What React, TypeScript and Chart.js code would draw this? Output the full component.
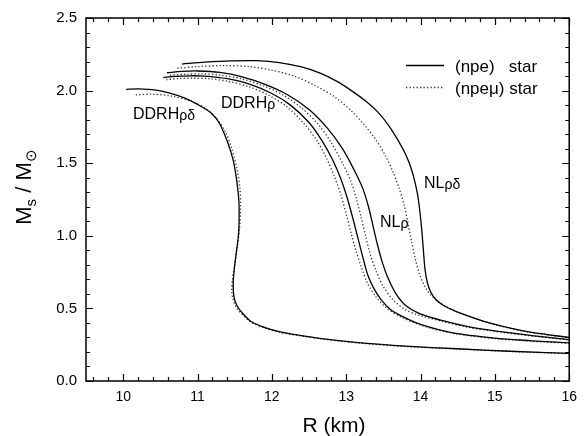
import React, { useEffect, useRef } from "react";
import { Chart, registerables } from "chart.js";

Chart.register(...registerables);

// Axis ticks
const xTickValues = [10, 11, 12, 13, 14, 15, 16];
const yTickValues = [0, 0.5, 1.0, 1.5, 2.0, 2.5];

// DDRHρδ (npe) star
const ddrhRhoDeltaNpeR = [10.04, 10.2, 10.44, 10.65, 10.84, 11.0, 11.19, 11.3, 11.41, 11.48, 11.52, 11.555, 11.56, 11.55, 11.52, 11.495, 11.48, 11.49, 11.53, 11.6, 11.72, 11.9, 12.1, 12.34, 12.7, 13.2, 13.8, 14.5, 15.2, 16.0];
const ddrhRhoDeltaNpeM = [2.009, 2.012, 2.004, 1.98, 1.947, 1.905, 1.843, 1.77, 1.637, 1.52, 1.407, 1.25, 1.13, 1.0, 0.88, 0.77, 0.673, 0.58, 0.52, 0.47, 0.41, 0.37, 0.34, 0.317, 0.29, 0.262, 0.24, 0.222, 0.205, 0.19];
// DDRHρδ (npeμ) star
const ddrhRhoDeltaNpemuR = [10.17, 10.4, 10.65, 10.9, 11.1, 11.25, 11.37, 11.46, 11.53, 11.57, 11.58, 11.565, 11.535, 11.5, 11.47, 11.46, 11.48, 11.53, 11.6, 11.72, 11.9, 12.1, 12.34, 12.7, 13.2, 13.8, 14.5, 15.2, 16.0];
const ddrhRhoDeltaNpemuM = [1.97, 1.975, 1.962, 1.93, 1.88, 1.81, 1.72, 1.6, 1.46, 1.33, 1.2, 1.05, 0.92, 0.8, 0.7, 0.62, 0.56, 0.5, 0.46, 0.405, 0.365, 0.336, 0.314, 0.288, 0.26, 0.238, 0.22, 0.204, 0.188];

// DDRHρ (npe) star
const ddrhRhoNpeR = [10.54, 10.7, 10.9, 11.1, 11.4, 11.7, 12.0, 12.25, 12.5, 12.68, 12.82, 12.93, 13.02, 13.1, 13.17, 13.23, 13.29, 13.37, 13.47, 13.6, 13.76, 14.0, 14.42, 15.0, 15.5, 16.0];
const ddrhRhoNpeM = [2.09, 2.098, 2.102, 2.1, 2.082, 2.045, 1.98, 1.9, 1.78, 1.65, 1.52, 1.39, 1.25, 1.1, 0.96, 0.84, 0.73, 0.64, 0.56, 0.49, 0.443, 0.39, 0.333, 0.295, 0.277, 0.262];
// DDRHρ (npeμ) star
const ddrhRhoNpemuR = [10.58, 10.75, 10.95, 11.15, 11.4, 11.7, 11.95, 12.2, 12.42, 12.6, 12.73, 12.84, 12.93, 13.0, 13.07, 13.13, 13.2, 13.28, 13.4, 13.55, 13.74, 14.0, 14.42, 15.0, 15.5, 16.0];
const ddrhRhoNpemuM = [2.075, 2.083, 2.085, 2.082, 2.065, 2.025, 1.97, 1.89, 1.78, 1.66, 1.54, 1.41, 1.28, 1.15, 1.01, 0.9, 0.79, 0.68, 0.58, 0.5, 0.44, 0.385, 0.33, 0.292, 0.274, 0.26];

// NLρ (npe) star
const nlRhoNpeR = [10.59, 10.8, 11.0, 11.3, 11.6, 11.9, 12.2, 12.5, 12.75, 12.95, 13.1, 13.22, 13.3, 13.36, 13.42, 13.49, 13.57, 13.67, 13.8, 13.98, 14.3, 14.64, 15.0, 15.5, 16.0];
const nlRhoNpeM = [2.123, 2.132, 2.135, 2.125, 2.095, 2.045, 1.975, 1.87, 1.74, 1.6, 1.46, 1.33, 1.2, 1.07, 0.94, 0.81, 0.7, 0.6, 0.52, 0.466, 0.415, 0.374, 0.345, 0.313, 0.285];
// NLρ (npeμ) star
const nlRhoNpemuR = [10.63, 10.85, 11.05, 11.3, 11.6, 11.9, 12.15, 12.4, 12.62, 12.8, 12.95, 13.06, 13.14, 13.2, 13.26, 13.32, 13.4, 13.5, 13.63, 13.8, 14.0, 14.3, 14.64, 15.0, 15.5, 16.0];
const nlRhoNpemuM = [2.105, 2.113, 2.115, 2.107, 2.08, 2.03, 1.97, 1.88, 1.77, 1.64, 1.5, 1.38, 1.25, 1.13, 1.0, 0.88, 0.76, 0.65, 0.56, 0.49, 0.45, 0.41, 0.37, 0.342, 0.31, 0.283];

// NLρδ (npe) star
const nlRhoDeltaNpeR = [10.79, 11.1, 11.45, 11.8, 12.1, 12.4, 12.65, 12.87, 13.07, 13.27, 13.43, 13.57, 13.7, 13.8, 13.87, 13.925, 13.965, 13.995, 14.02, 14.04, 14.06, 14.09, 14.14, 14.21, 14.31, 14.45, 14.6, 14.8, 15.0, 15.4, 15.7, 16.0];
const nlRhoDeltaNpeM = [2.183, 2.196, 2.205, 2.206, 2.193, 2.163, 2.12, 2.065, 2.0, 1.925, 1.85, 1.76, 1.655, 1.56, 1.47, 1.37, 1.27, 1.15, 1.02, 0.89, 0.77, 0.68, 0.61, 0.56, 0.52, 0.485, 0.455, 0.42, 0.39, 0.343, 0.32, 0.3];
// NLρδ (npeμ) star
const nlRhoDeltaNpemuR = [10.73, 11.0, 11.35, 11.7, 12.0, 12.3, 12.6, 12.85, 13.07, 13.25, 13.4, 13.53, 13.63, 13.71, 13.78, 13.83, 13.88, 13.93, 13.99, 14.07, 14.17, 14.3, 14.45, 14.6, 14.8, 15.0, 15.4, 15.7, 16.0];
const nlRhoDeltaNpemuM = [2.154, 2.165, 2.172, 2.165, 2.14, 2.1, 2.03, 1.955, 1.86, 1.76, 1.66, 1.55, 1.44, 1.33, 1.21, 1.09, 0.96, 0.84, 0.73, 0.64, 0.575, 0.525, 0.487, 0.455, 0.42, 0.388, 0.341, 0.318, 0.298];

const FONT = "'Liberation Sans', Arial, Helvetica, sans-serif";

function pts(r: number[], m: number[]) {
  return r.map((v, i) => ({ x: v, y: m[i] }));
}

function solid(label: string, r: number[], m: number[]) {
  return {
    label,
    data: pts(r, m),
    showLine: true,
    borderColor: "#000",
    borderWidth: 1.3,
    pointRadius: 0,
    tension: 0.3,
    fill: false,
  };
}

function dotted(label: string, r: number[], m: number[]) {
  return {
    label,
    data: pts(r, m),
    showLine: true,
    borderColor: "#333",
    borderWidth: 1.3,
    borderDash: [1.3, 2.2],
    pointRadius: 0,
    tension: 0.3,
    fill: false,
  };
}

const decorPlugin = {
  id: "decor",
  afterDraw(chart: any) {
    const { ctx, chartArea: a, scales } = chart;
    const x = scales.x;
    const y = scales.y;
    ctx.save();
    ctx.strokeStyle = "#000";
    ctx.lineWidth = 1.5;
    ctx.strokeRect(a.left, a.top, a.right - a.left, a.bottom - a.top);
    ctx.lineWidth = 1.2;
    ctx.beginPath();
    // x minor/major ticks every 0.2
    for (let i = 48; i <= 80; i++) {
      const v = i * 0.2;
      const px = Math.round(x.getPixelForValue(v)) + 0.5;
      const len = i % 5 === 0 ? 7 : 4;
      ctx.moveTo(px, a.bottom);
      ctx.lineTo(px, a.bottom - len);
      ctx.moveTo(px, a.top);
      ctx.lineTo(px, a.top + len);
    }
    // y ticks every 0.1
    for (let i = 0; i <= 25; i++) {
      const v = i * 0.1;
      const py = Math.round(y.getPixelForValue(v)) + 0.5;
      const len = i % 5 === 0 ? 7 : 4;
      ctx.moveTo(a.left, py);
      ctx.lineTo(a.left + len, py);
      ctx.moveTo(a.right, py);
      ctx.lineTo(a.right - len, py);
    }
    ctx.stroke();

    // Legend
    ctx.lineWidth = 1.3;
    ctx.strokeStyle = "#000";
    ctx.beginPath();
    ctx.moveTo(406, 65.5);
    ctx.lineTo(444, 65.5);
    ctx.stroke();
    ctx.strokeStyle = "#333";
    ctx.setLineDash([1.3, 2.2]);
    ctx.beginPath();
    ctx.moveTo(406, 87.5);
    ctx.lineTo(444, 87.5);
    ctx.stroke();
    ctx.setLineDash([]);
    ctx.fillStyle = "#000";
    ctx.textBaseline = "alphabetic";
    ctx.textAlign = "left";
    ctx.font = `17px ${FONT}`;
    ctx.fillText("(npe)   star", 455, 72);
    ctx.fillText("(npe\u03bc) star", 455, 94);

    // Curve labels
    const drawLabel = (main: string, greek: string, px: number, py: number) => {
      ctx.font = `16px ${FONT}`;
      ctx.fillText(main, px, py);
      const w = ctx.measureText(main).width;
      ctx.font = `14px ${FONT}`;
      ctx.fillText(greek, px + w, py + 1);
    };
    drawLabel("DDRH", "\u03c1\u03b4", 133, 119);
    drawLabel("DDRH", "\u03c1", 221, 108);
    drawLabel("NL", "\u03c1\u03b4", 424, 188);
    drawLabel("NL", "\u03c1", 380, 227);

    // Axis titles
    ctx.font = `21px ${FONT}`;
    ctx.textAlign = "center";
    ctx.fillText("R (km)", 334, 432);

    ctx.save();
    ctx.translate(31, 187);
    ctx.rotate(-Math.PI / 2);
    const parts: [string, number, number][] = [
      ["M", 22, 0],
      ["s", 15, 5],
      [" / M", 22, 0],
      ["\u2299", 15, 5],
    ];
    let total = 0;
    for (const [t, s] of parts) {
      ctx.font = `${s}px ${FONT}`;
      total += ctx.measureText(t).width;
    }
    let cx = -total / 2;
    ctx.textAlign = "left";
    for (const [t, s, dy] of parts) {
      ctx.font = `${s}px ${FONT}`;
      ctx.fillText(t, cx, dy);
      cx += ctx.measureText(t).width;
    }
    ctx.restore();
    ctx.restore();
  },
};

export default function App() {
  const ref = useRef<HTMLCanvasElement | null>(null);
  useEffect(() => {
    document.body.style.margin = "0";
    const canvas = ref.current;
    if (!canvas) return;
    const chart = new Chart(canvas, {
      type: "scatter",
      data: {
        datasets: [
          solid("DDRHρδ npe", ddrhRhoDeltaNpeR, ddrhRhoDeltaNpeM),
          dotted("DDRHρδ npeμ", ddrhRhoDeltaNpemuR, ddrhRhoDeltaNpemuM),
          solid("DDRHρ npe", ddrhRhoNpeR, ddrhRhoNpeM),
          dotted("DDRHρ npeμ", ddrhRhoNpemuR, ddrhRhoNpemuM),
          solid("NLρ npe", nlRhoNpeR, nlRhoNpeM),
          dotted("NLρ npeμ", nlRhoNpemuR, nlRhoNpemuM),
          solid("NLρδ npe", nlRhoDeltaNpeR, nlRhoDeltaNpeM),
          dotted("NLρδ npeμ", nlRhoDeltaNpemuR, nlRhoDeltaNpemuM),
        ] as any,
      },
      options: {
        animation: false,
        responsive: false,
        maintainAspectRatio: false,
        layout: { padding: { top: 18, right: 9, left: 0, bottom: 0 } },
        plugins: {
          legend: { display: false },
          tooltip: { enabled: false },
        },
        scales: {
          x: {
            type: "linear",
            min: 9.5,
            max: 16,
            grid: { display: false, drawTicks: false },
            border: { display: false },
            afterBuildTicks: (s: any) => {
              s.ticks = xTickValues.map((v) => ({ value: v }));
            },
            afterFit: (s: any) => {
              s.height = 55;
            },
            ticks: {
              color: "#000",
              font: { family: FONT, size: 14 },
              padding: 8,
              maxRotation: 0,
              callback: (v: any) => String(v),
            },
          },
          y: {
            type: "linear",
            min: 0,
            max: 2.5,
            grid: { display: false, drawTicks: false },
            border: { display: false },
            afterBuildTicks: (s: any) => {
              s.ticks = yTickValues.map((v) => ({ value: v }));
            },
            afterFit: (s: any) => {
              s.width = 86;
            },
            ticks: {
              color: "#000",
              font: { family: FONT, size: 15 },
              padding: 9,
              callback: (v: any) => Number(v).toFixed(1),
            },
          },
        },
      },
      plugins: [decorPlugin],
    });
    return () => chart.destroy();
  }, []);
  return (
    <div style={{ width: 585, height: 436, background: "#fff" }}>
      <canvas ref={ref} width={585} height={436} style={{ display: "block" }} />
    </div>
  );
}
